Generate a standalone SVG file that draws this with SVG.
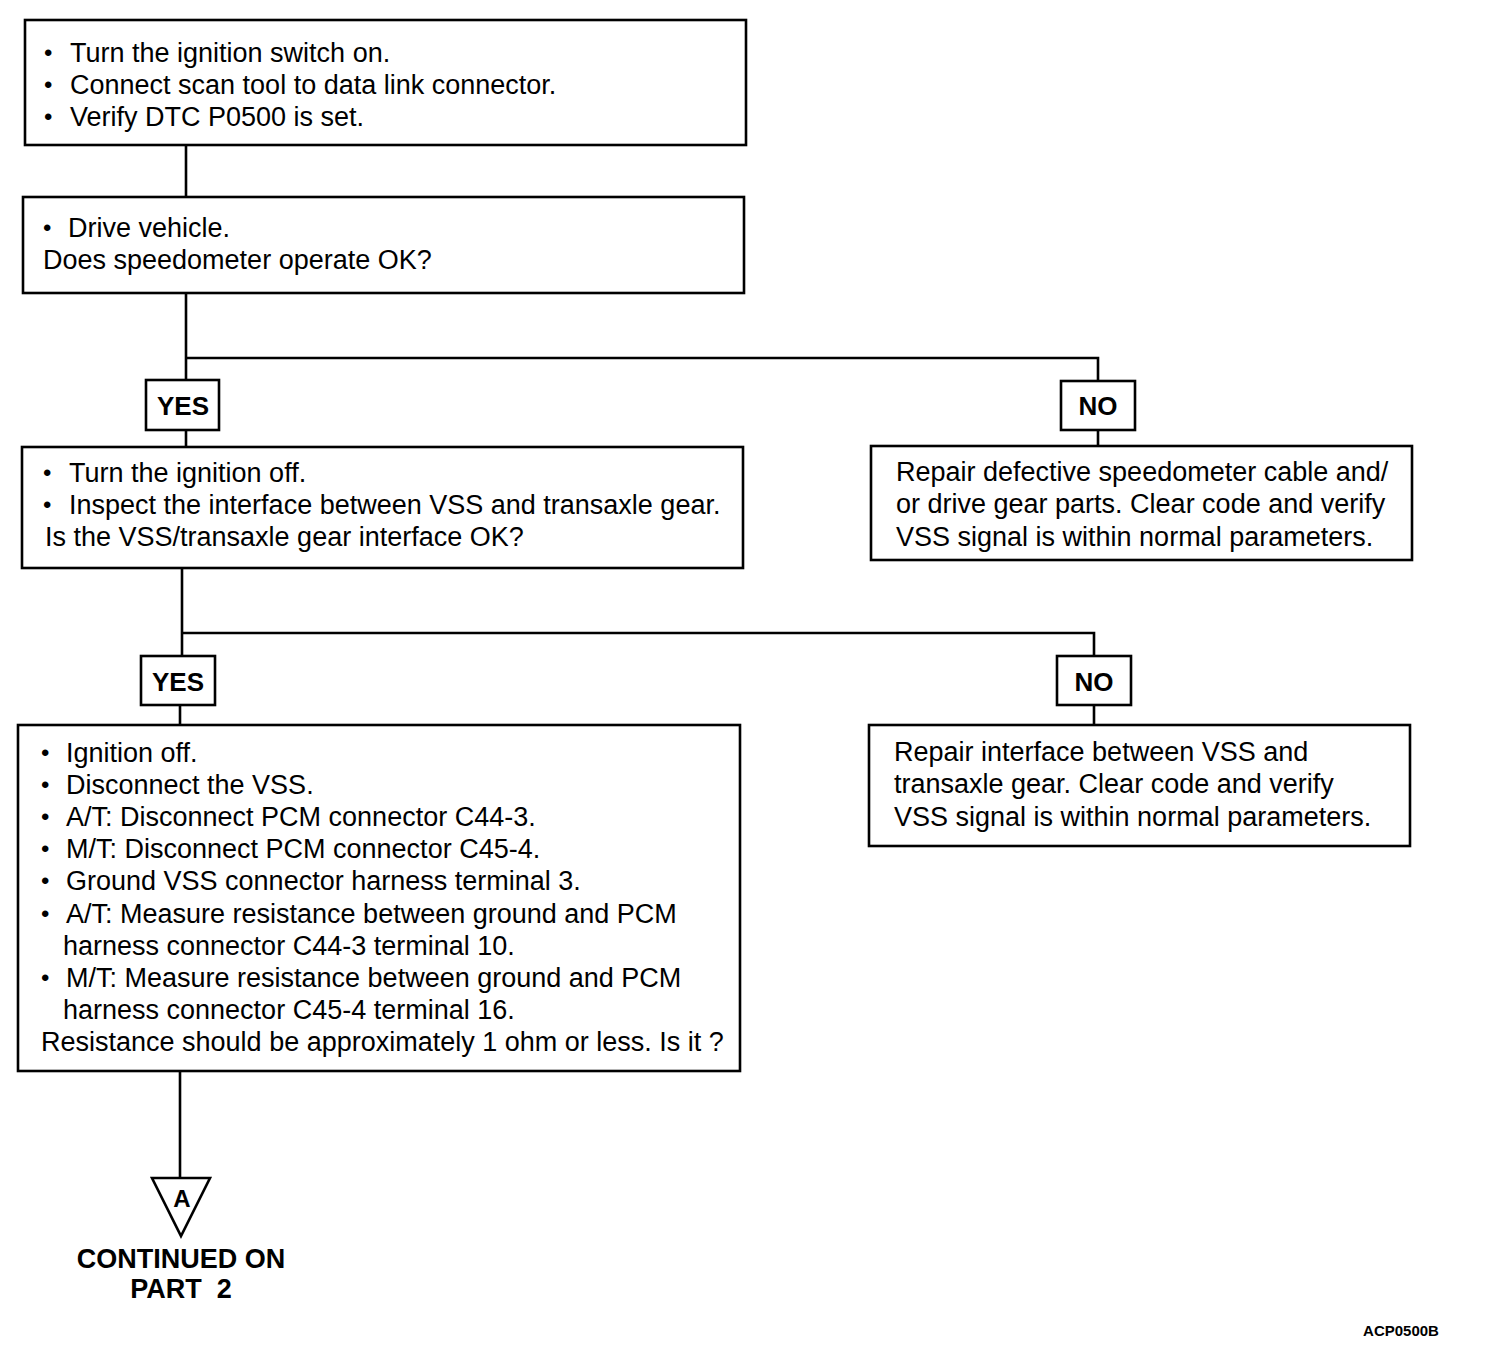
<svg xmlns="http://www.w3.org/2000/svg" width="1504" height="1370" viewBox="0 0 1504 1370">
<style>
.box{fill:#fff;stroke:#000;stroke-width:2.6}
.lbl{fill:#fff;stroke:#000;stroke-width:2.6}
.t{font-family:"Liberation Sans",Arial,sans-serif;font-size:27px;fill:#000}
.d{font-family:"Liberation Sans",Arial,sans-serif;font-size:24px;fill:#000}
.b{font-family:"Liberation Sans",Arial,sans-serif;font-size:26px;font-weight:bold;fill:#000;text-anchor:middle}
.c{stroke:#000;stroke-width:2.6;fill:none}
</style>
<rect width="1504" height="1370" fill="#fff"/>
<g id="connectors">
<polyline class="c" points="186,145 186,197"/>
<polyline class="c" points="186,293 186,380"/>
<polyline class="c" points="186,358 1098,358 1098,381"/>
<polyline class="c" points="186,430 186,447"/>
<polyline class="c" points="1098,430 1098,446"/>
<polyline class="c" points="182,568 182,656"/>
<polyline class="c" points="182,633 1094,633 1094,656"/>
<polyline class="c" points="180,705 180,725"/>
<polyline class="c" points="1094,705 1094,725"/>
<polyline class="c" points="180,1071 180,1178"/>
</g>
<g id="n1">
<rect class="box" x="25" y="20" width="721" height="125"/>
<text class="d" x="44" y="61">•</text><text class="t" x="70" y="62">Turn the ignition switch on.</text>
<text class="d" x="44" y="93">•</text><text class="t" x="70" y="94">Connect scan tool to data link connector.</text>
<text class="d" x="44" y="125">•</text><text class="t" x="70" y="126">Verify DTC P0500 is set.</text>
</g>
<g id="n2">
<rect class="box" x="23" y="197" width="721" height="96"/>
<text class="d" x="43" y="236">•</text><text class="t" x="68" y="237">Drive vehicle.</text>
<text class="t" x="43" y="269">Does speedometer operate OK?</text>
</g>
<g id="yes1">
<rect class="lbl" x="146" y="380" width="73" height="50"/>
<text class="b" x="183" y="415">YES</text>
</g>
<g id="no1">
<rect class="lbl" x="1061" y="381" width="74" height="49"/>
<text class="b" x="1098" y="415">NO</text>
</g>
<g id="n3">
<rect class="box" x="22" y="447" width="721" height="121"/>
<text class="d" x="43" y="481">•</text><text class="t" x="69" y="482">Turn the ignition off.</text>
<text class="d" x="43" y="513">•</text><text class="t" x="69" y="514">Inspect the interface between VSS and transaxle gear.</text>
<text class="t" x="45" y="546">Is the VSS/transaxle gear interface OK?</text>
</g>
<g id="n4">
<rect class="box" x="871" y="446" width="541" height="114"/>
<text class="t" x="896" y="481">Repair defective speedometer cable and/</text>
<text class="t" x="896" y="513">or drive gear parts. Clear code and verify</text>
<text class="t" x="896" y="546">VSS signal is within normal parameters.</text>
</g>
<g id="yes2">
<rect class="lbl" x="141" y="656" width="74" height="49"/>
<text class="b" x="178" y="691">YES</text>
</g>
<g id="no2">
<rect class="lbl" x="1057" y="656" width="74" height="49"/>
<text class="b" x="1094" y="691">NO</text>
</g>
<g id="n5">
<rect class="box" x="18" y="725" width="722" height="346"/>
<text class="d" x="41" y="761">•</text><text class="t" x="66" y="762">Ignition off.</text>
<text class="d" x="41" y="793">•</text><text class="t" x="66" y="794">Disconnect the VSS.</text>
<text class="d" x="41" y="825">•</text><text class="t" x="66" y="826">A/T: Disconnect PCM connector C44-3.</text>
<text class="d" x="41" y="857">•</text><text class="t" x="66" y="858">M/T: Disconnect PCM connector C45-4.</text>
<text class="d" x="41" y="889">•</text><text class="t" x="66" y="890">Ground VSS connector harness terminal 3.</text>
<text class="d" x="41" y="922">•</text><text class="t" x="66" y="923">A/T: Measure resistance between ground and PCM</text>
<text class="t" x="63" y="955">harness connector C44-3 terminal 10.</text>
<text class="d" x="41" y="986">•</text><text class="t" x="66" y="987">M/T: Measure resistance between ground and PCM</text>
<text class="t" x="63" y="1019">harness connector C45-4 terminal 16.</text>
<text class="t" x="41" y="1051">Resistance should be approximately 1 ohm or less. Is it ?</text>
</g>
<g id="n6">
<rect class="box" x="869" y="725" width="541" height="121"/>
<text class="t" x="894" y="761">Repair interface between VSS and</text>
<text class="t" x="894" y="793">transaxle gear. Clear code and verify</text>
<text class="t" x="894" y="826">VSS signal is within normal parameters.</text>
</g>
<g id="connA">
<polygon points="152,1178 210,1178 181,1236" fill="#fff" stroke="#000" stroke-width="2.6"/>
<text class="b" x="182" y="1207" style="font-size:24px">A</text>
<text class="b" x="181" y="1268" style="font-size:27px">CONTINUED ON</text>
<text class="b" x="181" y="1298" style="font-size:27px" xml:space="preserve">PART  2</text>
</g>
<text x="1401" y="1336" style="font-family:'Liberation Sans',Arial,sans-serif;font-size:15px;font-weight:bold;text-anchor:middle">ACP0500B</text>
</svg>
